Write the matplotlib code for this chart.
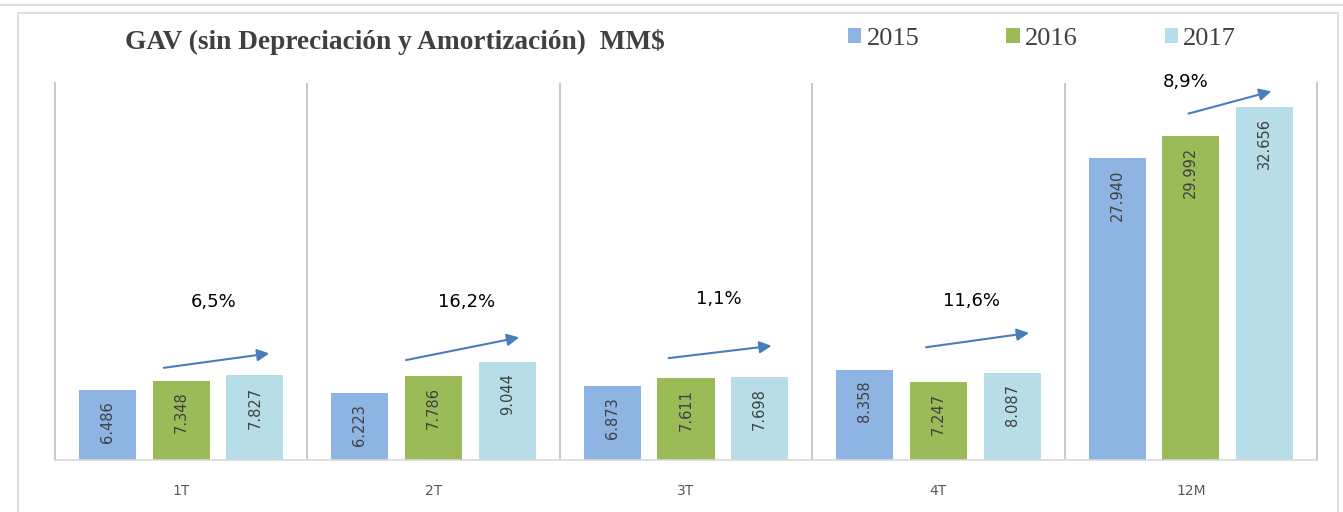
import numpy as np
import matplotlib
matplotlib.use('Agg')
import matplotlib.pyplot as plt
from matplotlib.patches import Rectangle

periodos = ['1T', '2T', '3T', '4T', '12M']
anios = ['2015', '2016', '2017']
v2015 = [6.486, 6.223, 6.873, 8.358, 27.940]
v2016 = [7.348, 7.786, 7.611, 7.247, 29.992]
v2017 = [7.827, 9.044, 7.698, 8.087, 32.656]
crecimiento = ['6,5%', '16,2%', '1,1%', '11,6%', '8,9%']
# flechas: (x0, y0, x1, y1) relativas al centro de cada grupo
flechas = [(-0.08, 8.5, 0.36, 9.9), (-0.12, 9.2, 0.35, 11.4), (-0.08, 9.4, 0.35, 10.6),
           (-0.06, 10.4, 0.37, 11.8), (-0.02, 32.0, 0.33, 34.2)]
pos_etiqueta = [14.6, 14.6, 14.9, 14.7, 35.0]

colores = ['#8db4e2', '#9bbb59', '#b7dee8']
series = [v2015, v2016, v2017]

fig = plt.figure(figsize=(13.43, 5.12), dpi=100)
fig.patches.append(Rectangle((18 / 1343, -0.01), 1320 / 1343, 1 - 13 / 512 + 0.01,
                             transform=fig.transFigure, fill=False, edgecolor='#d9d9d9', lw=1.2))
fig.add_artist(plt.Line2D([0, 1], [1 - 5 / 512] * 2, transform=fig.transFigure, color='#d9d9d9', lw=1.2))

ax = fig.add_axes([55 / 1343, 1 - 460 / 512, 1262 / 1343, (460 - 83) / 512])
x = np.arange(len(periodos))
ancho = 0.226
for i, (vals, col) in enumerate(zip(series, colores)):
    pos = x + (i - 1) * 0.292
    ax.bar(pos, vals, width=ancho, color=col, label=anios[i], zorder=2)
    for p, v in zip(pos, vals):
        ax.annotate(f'{v:.3f}', (p, v), xytext=(0, -8), textcoords='offset points',
                    rotation=90, ha='center', va='top', fontsize=10.5, color='#404040', zorder=3)

for g in range(len(periodos)):
    x0, y0, x1, y1 = flechas[g]
    ax.annotate('', xy=(g + x1, y1), xytext=(g + x0, y0),
                arrowprops=dict(arrowstyle='-|>', color='#4a7ebb', lw=1.5, mutation_scale=18),
                annotation_clip=False)
    ax.text(g + 0.13 if g < 4 else g - 0.02, pos_etiqueta[g], crecimiento[g], ha='center', va='center',
            fontsize=13, color='black', clip_on=False)

for s in np.arange(0.5, 4.5, 1):
    ax.axvline(s, color='#bfbfbf', lw=1.2, zorder=1)

ax.set_xlim(-0.5, 4.5)
ax.set_ylim(0, 34.9)
ax.set_yticks([])
ax.set_xticks(x)
ax.set_xticklabels(periodos, fontsize=10, color='#595959')
ax.tick_params(axis='x', length=0, pad=17)
ax.spines['top'].set_visible(False)
for sp in ['left', 'right', 'bottom']:
    ax.spines[sp].set_color('#bfbfbf')
    ax.spines[sp].set_linewidth(1.2)
ax.spines['bottom'].set_color('#d9d9d9')

fig.text(395 / 1343, 1 - 42 / 512, 'GAV (sin Depreciación y Amortización)  MM$', ha='center', va='center',
         fontsize=19.7, fontweight='bold', color='#404040', family='Liberation Serif')

handles, labels = ax.get_legend_handles_labels()
fig.legend(handles, labels, loc='center left', bbox_to_anchor=(848 / 1343, 1 - 39 / 512), ncol=3,
           frameon=False, prop={'family': 'Liberation Serif', 'size': 19}, labelcolor='#404040',
           borderpad=0, borderaxespad=0,
           handlelength=0.5, handleheight=0.5, handletextpad=0.2, columnspacing=3.3)

fig.savefig('out.png', dpi=100)
